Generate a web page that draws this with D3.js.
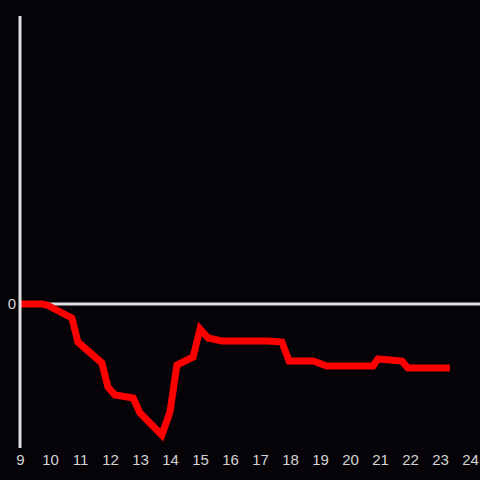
<!DOCTYPE html>
<html><head><meta charset="utf-8">
<script src="https://cdn.jsdelivr.net/npm/d3@7"></script>
<style>body{margin:0;background:#050307;}svg{display:block;}</style>
</head><body>
<svg id="c" width="480" height="480"></svg>
<script>
const hours = [9.0, 9.73, 9.9, 10.73, 10.93, 11.73, 11.93, 12.17, 12.77, 13.0, 13.73, 14.0, 14.23, 14.77, 15.0, 15.27, 15.73, 17.27, 17.73, 17.97, 18.77, 19.23, 20.77, 20.93, 21.73, 21.93, 23.33];
const values = [0, 0, -0.1, -1.4, -3.8, -5.9, -8.3, -9.1, -9.4, -10.9, -13.1, -10.8, -6.1, -5.3, -2.5, -3.4, -3.7, -3.7, -3.8, -5.7, -5.7, -6.2, -6.2, -5.5, -5.7, -6.4, -6.4];
const xTicks = [9,10,11,12,13,14,15,16,17,18,19,20,21,22,23,24];
const yTicks = [0];

const svg = d3.select("#c");
svg.append("rect").attr("width",480).attr("height",480).attr("fill","#050307");
const x = d3.scaleLinear().domain([9,24]).range([20,470]);
const y = d3.scaleLinear().domain([-14.4,28.8]).range([448,16]);

// zero line
svg.append("line").attr("x1",x(9)).attr("x2",480).attr("y1",y(0)).attr("y2",y(0))
  .attr("stroke","#e0e0e0").attr("stroke-width",3);

const data = hours.map((h,i)=>[h,values[i]]);
svg.append("path").datum(data)
  .attr("d", d3.line().x(d=>x(d[0])).y(d=>y(d[1])))
  .attr("fill","none").attr("stroke","#ff0000").attr("stroke-width",7);

// y axis line
svg.append("line").attr("x1",x(9)).attr("x2",x(9)).attr("y1",y(28.8)).attr("y2",y(-14.4))
  .attr("stroke","#e0e0e0").attr("stroke-width",3);

const font = "Liberation Sans, Arial, sans-serif";
const xa = svg.append("g").attr("transform",`translate(0,${452})`)
  .call(d3.axisBottom(x).tickValues(xTicks).tickSize(0).tickPadding(2).tickFormat(d3.format("d")));
xa.select(".domain").remove();
xa.selectAll("text").attr("fill","#d4d4d4").attr("font-size",15).attr("font-family",font);

const ya = svg.append("g").attr("transform",`translate(${x(9)-4},0)`)
  .call(d3.axisLeft(y).tickValues(yTicks).tickSize(0).tickPadding(0));
ya.select(".domain").remove();
ya.selectAll("text").attr("fill","#d4d4d4").attr("font-size",15).attr("font-family",font);
</script>
</body></html>
